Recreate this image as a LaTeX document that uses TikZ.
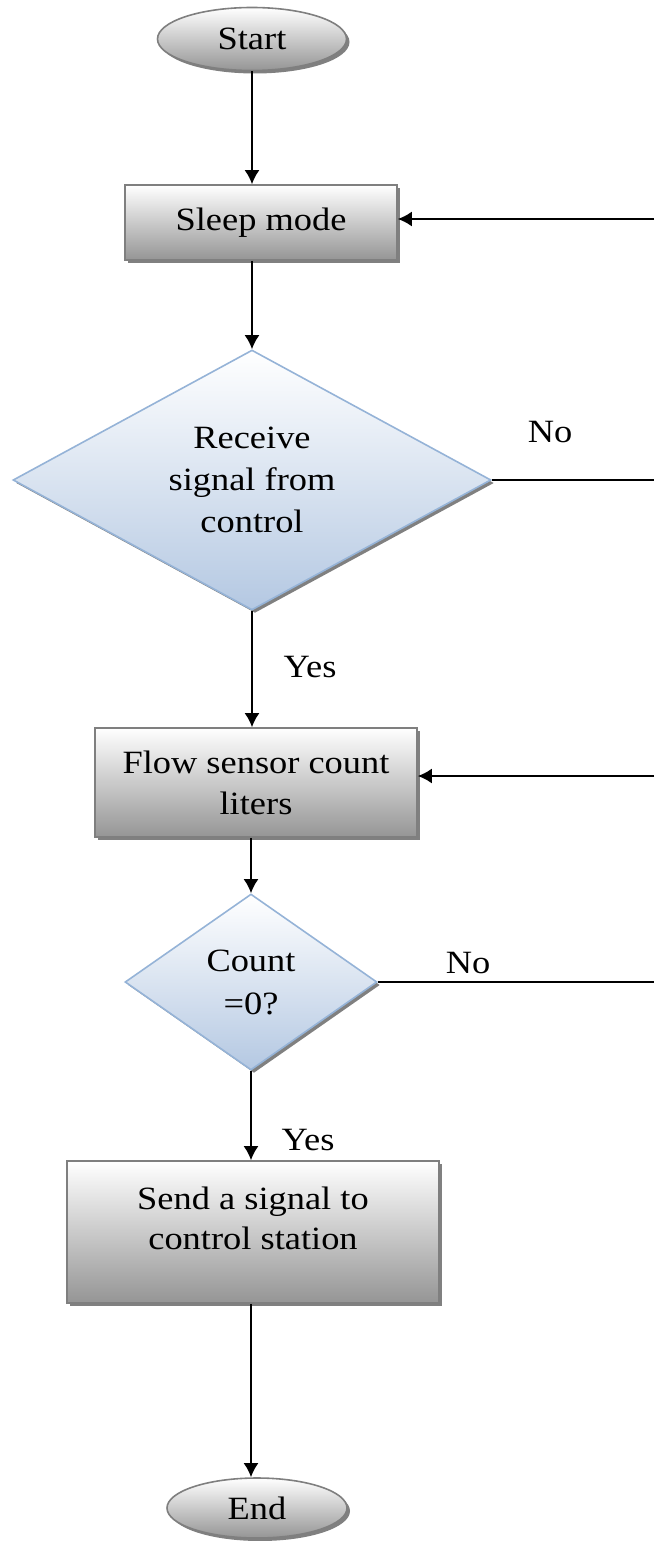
\documentclass[tikz,border=0pt]{standalone}
\usepackage{fontspec}
\setmainfont{Liberation Serif}[FakeStretch=1.12]
\usetikzlibrary{shapes.geometric,arrows.meta,shadows}
\definecolor{boxborder}{HTML}{7F7F7F}
\definecolor{boxbottom}{HTML}{959595}
\definecolor{dbottom}{HTML}{B4C8E2}
\definecolor{dborder}{HTML}{95B3D7}
\definecolor{shadowgray}{HTML}{808080}
\begin{document}
\begin{tikzpicture}[x=1pt,y=-1pt,
  txt/.style={font=\fontsize{32.5}{42}\selectfont},
  sh/.style={drop shadow={shadow xshift=3pt,shadow yshift=-3pt,fill=shadowgray,opacity=1}},
  procbox/.style={rectangle, draw=boxborder, line width=1.6pt, top color=white, bottom color=boxbottom, sh, inner sep=0pt, align=center, txt},
  term/.style={ellipse, draw=boxborder, line width=1.6pt, top color=white, bottom color=boxbottom, sh, inner sep=0pt, txt},
  decision/.style={diamond, draw=dborder, line width=1.6pt, top color=white, bottom color=dbottom, sh, inner sep=0pt, align=center, txt},
  conn/.style={line width=2pt, draw=black},
  arr/.style={conn, -{Latex[length=14pt,width=15pt]}},
  lab/.style={txt, inner sep=0pt}
]
\useasboundingbox (0,0) rectangle (654,1541);

\node[term, minimum width=189pt, minimum height=63pt] (start) at (252,39) {Start};
\node[procbox, minimum width=272pt, minimum height=75pt] (sleep) at (261,222.5) {Sleep mode};
\node[decision, minimum width=478pt, minimum height=260pt, aspect=1.84] (recv) at (252,480) {Receive\\signal from\\control};
\node[procbox, minimum width=322pt, minimum height=109pt, font=\fontsize{32.5}{41}\selectfont] (flow) at (256,782.5) {Flow sensor count\\liters};
\node[decision, minimum width=252pt, minimum height=176pt, aspect=1.43, font=\fontsize{32.5}{43}\selectfont] (cnt) at (251,982) {Count\\=0?};
\node[procbox, minimum width=372pt, minimum height=142pt] (send) at (253,1232) {};
\node[lab, align=center, font=\fontsize{32.5}{40}\selectfont] (sendtxt) at (253,1218) {Send a signal to\\control station};
\node[term, minimum width=180pt, minimum height=60pt] (end) at (257,1508) {End};

\node[lab] (yes1) at (310,667) {Yes};
\node[lab] (yes2) at (308,1140) {Yes};
\node[lab] (no1) at (550,432) {No};
\node[lab] (no2) at (468,963) {No};

\coordinate (r1) at (654,219);
\coordinate (r2) at (654,481);
\coordinate (r3) at (654,776);
\coordinate (r4) at (654,982);

\draw[arr] (start.south) -- (start.south |- sleep.north);
\draw[arr] (recv.north |- sleep.south) -- (recv.north);
\draw[arr] (recv.south) -- (recv.south |- flow.north);
\draw[arr] (cnt.north |- flow.south) -- (cnt.north);
\draw[arr] (cnt.south) -- (cnt.south |- send.north);
\draw[arr] (cnt.south |- send.south) -- (cnt.south |- end.north);

\draw[arr] (r1) -- (r1 -| sleep.east);
\draw[conn] (recv.east) -- (recv.east -| r2);
\draw[arr] (r3) -- (r3 -| flow.east);
\draw[conn] (cnt.east) -- (cnt.east -| r4);
\end{tikzpicture}
\end{document}
